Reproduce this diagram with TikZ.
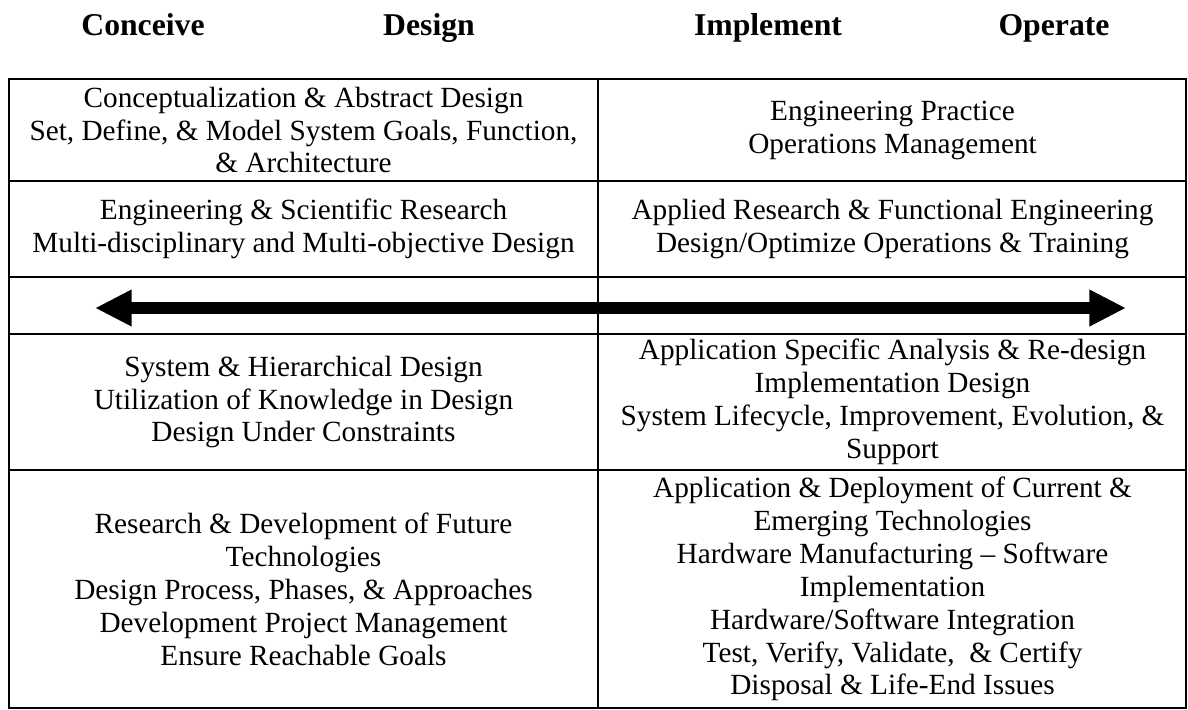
\documentclass[tikz,border=0pt]{standalone}
\usepackage{fontspec}
\setmainfont{Liberation Serif}
\usetikzlibrary{positioning}
\usetikzlibrary{arrows.meta}
\tikzset{
    cellnode/.style = {align=center, inner sep=0pt, font=\fontsize{12}{13.5}\selectfont, text=black},
    headnode/.style = {anchor=base, inner sep=0pt, font=\fontsize{13}{15}\selectfont\bfseries, text=black},
    gridline/.style = {-, line width=1pt, black},
    bigarrow/.style = {{Triangle[length=15pt,width=14pt]}-{Triangle[length=15pt,width=14pt]}, line width=5pt, black}
}

\begin{document}
\begin{tikzpicture}[x=0.41pt,y=-0.41pt]
\useasboundingbox (0,0) rectangle (1188,709);

\node[headnode] at ( 143, 35) (conceive) {Conceive};
\node[headnode] at ( 429, 35) (design) {Design};
\node[headnode] at ( 768, 35) (implement) {Implement};
\node[headnode] at (1054, 35) (operate) {Operate};

\node[cellnode] at (303.5, 130) (abstractL) {Conceptualization \& Abstract Design\\Set, Define, \& Model System Goals, Function,\\\& Architecture};
\node[cellnode] at (892.5, 130) (abstractR) {Engineering Practice\\Operations Management};
\node[cellnode] at (303.5, 229) (researchL) {Engineering \& Scientific Research\\Multi-disciplinary and Multi-objective Design};
\node[cellnode] at (892.5, 229) (researchR) {Applied Research \& Functional Engineering\\Design/Optimize Operations \& Training};
\node[cellnode] at (303.5, 402) (systemL) {System \& Hierarchical Design\\Utilization of Knowledge in Design\\Design Under Constraints};
\node[cellnode] at (892.5, 402) (systemR) {Application Specific Analysis \& Re-design\\Implementation Design\\System Lifecycle, Improvement, Evolution, \&\\Support};
\node[cellnode] at (303.5, 589) (futureL) {Research \& Development of Future\\Technologies\\Design Process, Phases, \& Approaches\\Development Project Management\\Ensure Reachable Goals};
\node[cellnode] at (892.5, 589) (futureR) {Application \& Deployment of Current \&\\Emerging Technologies\\Hardware Manufacturing – Software\\Implementation\\Hardware/Software Integration\\Test, Verify, Validate, \ \& Certify\\Disposal \& Life-End Issues};

\draw[gridline] (9,79) rectangle (1186,708);
\foreach \y in {181,277,334,470}
    \draw[gridline] (9,\y) -- (1186,\y);
\draw[gridline] (598,79) -- (598,708);

\coordinate (arrowL) at (95,308);
\coordinate (arrowR) at (1126,308);
\draw[bigarrow] (arrowL) -- (arrowR);

\end{tikzpicture}
\end{document}
